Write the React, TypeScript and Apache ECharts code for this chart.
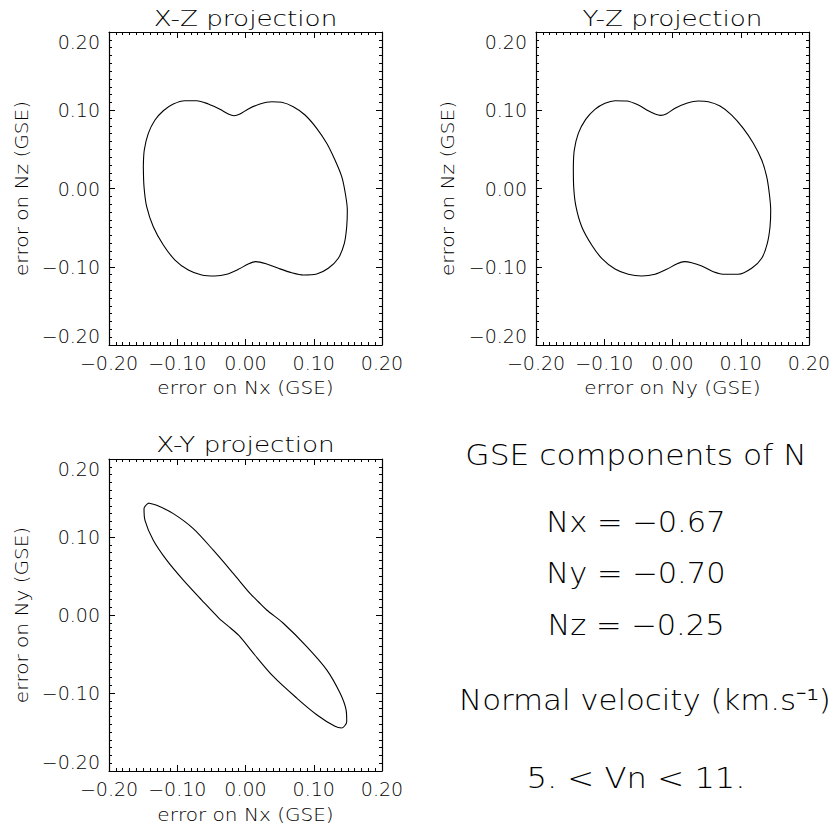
import React, { useEffect, useRef } from "react";
import * as echarts from "echarts";

// ---- Data ----
const xzX = [-0.1497,-0.1483,-0.1424,-0.1326,-0.1204,-0.1058,-0.0886,-0.0715,-0.0545,-0.0374,-0.0252,-0.0168,-0.0081,0.0041,0.0212,0.0384,0.0530,0.0700,0.0872,0.1043,0.1190,0.1311,0.1410,0.1462,0.1492,0.1483,0.1448,0.1360,0.1213,0.1043,0.0847,0.0677,0.0481,0.0311,0.0149,0.0041,-0.0105,-0.0275,-0.0447,-0.0642,-0.0838,-0.1033,-0.1204,-0.1351,-0.1448,-0.1487];
const xzZ = [0.0279,0.0492,0.0705,0.0875,0.0994,0.1080,0.1122,0.1122,0.1080,0.1012,0.0952,0.0930,0.0952,0.1016,0.1080,0.1109,0.1102,0.1045,0.0939,0.0769,0.0578,0.0364,0.0151,-0.0061,-0.0275,-0.0488,-0.0700,-0.0892,-0.1020,-0.1093,-0.1105,-0.1076,-0.1020,-0.0965,-0.0935,-0.0965,-0.1033,-0.1096,-0.1118,-0.1105,-0.1042,-0.0914,-0.0722,-0.0488,-0.0233,0.0023];

const yzY = [-0.1453,-0.1439,-0.1380,-0.1272,-0.1136,-0.0989,-0.0842,-0.0671,-0.0501,-0.0355,-0.0256,-0.0173,-0.0085,0.0037,0.0208,0.0378,0.0525,0.0696,0.0867,0.1037,0.1184,0.1307,0.1380,0.1418,0.1439,0.1429,0.1389,0.1307,0.1160,0.0964,0.0769,0.0598,0.0428,0.0281,0.0173,0.0062,-0.0085,-0.0256,-0.0451,-0.0648,-0.0842,-0.1037,-0.1184,-0.1330,-0.1414,-0.1448];
const yzZ = [0.0279,0.0492,0.0705,0.0884,0.1012,0.1089,0.1122,0.1118,0.1067,0.0994,0.0952,0.0935,0.0956,0.1025,0.1089,0.1118,0.1109,0.1054,0.0939,0.0769,0.0578,0.0364,0.0151,-0.0061,-0.0275,-0.0488,-0.0700,-0.0892,-0.1020,-0.1096,-0.1096,-0.1063,-0.0990,-0.0948,-0.0935,-0.0965,-0.1033,-0.1096,-0.1118,-0.1096,-0.1029,-0.0892,-0.0722,-0.0488,-0.0233,0.0023];

const xyX = [-0.1424,-0.1487,-0.1473,-0.1351,-0.1155,-0.0911,-0.0642,-0.0388,-0.0212,-0.0081,0.0114,0.0407,0.0750,0.1043,0.1311,0.1410,0.1483,0.1473,0.1385,0.1190,0.0897,0.0554,0.0311,0.0188,0.0066,-0.0179,-0.0472,-0.0765,-0.1058,-0.1301];
const xyY = [0.1435,0.1364,0.1214,0.0958,0.0703,0.0447,0.0192,-0.0042,-0.0173,-0.0277,-0.0489,-0.0788,-0.1065,-0.1278,-0.1427,-0.1448,-0.1364,-0.1214,-0.1001,-0.0703,-0.0405,-0.0106,0.0064,0.0170,0.0277,0.0533,0.0831,0.1108,0.1300,0.1406];

const panelTitles = ["X-Z projection", "Y-Z projection", "X-Y projection"];
const xNames = ["error on Nx (GSE)", "error on Ny (GSE)", "error on Nx (GSE)"];
const yNames = ["error on Nz (GSE)", "error on Nz (GSE)", "error on Ny (GSE)"];
const infoLines = [
  "GSE components of N",
  "Nx = −0.67",
  "Ny = −0.70",
  "Nz = −0.25",
  "Normal velocity (km.s⁻¹)",
  "5. < Vn < 11.",
];

const FONT = "'DejaVu Sans', sans-serif";
const FW = 200;

function loop(xs: number[], ys: number[]) {
  const pts = xs.map((x, i) => [x, ys[i]]);
  pts.push([xs[0], ys[0]]);
  return pts;
}

const fmt = (v: number) => {
  const s = Math.abs(v).toFixed(2);
  return v < -1e-9 ? "−" + s : s;
};

function txt(t: string, x: number, y: number, size: number, sx: number, rot = 0) {
  return {
    type: "text",
    x,
    y,
    rotation: rot,
    scaleX: sx,
    silent: true,
    style: {
      text: t,
      fill: "#000",
      fontSize: size,
      fontFamily: FONT,
      fontWeight: FW,
      textAlign: "center",
      textVerticalAlign: "middle",
      align: "center",
      verticalAlign: "middle",
    },
  };
}

export default function App() {
  const ref = useRef<HTMLDivElement>(null);
  useEffect(() => {
    if (!ref.current) return;
    const chart = echarts.init(ref.current, undefined, { renderer: "svg" });
    const grids = [
      { left: 109, top: 32, width: 273, height: 313 },
      { left: 536, top: 32, width: 273, height: 313 },
      { left: 109, top: 459, width: 273, height: 312 },
    ];
    const common = {
      type: "value",
      min: -0.2,
      max: 0.2,
      interval: 0.1,
      splitLine: { show: false },
      minorSplitLine: { show: false },
      axisLine: { onZero: false, lineStyle: { color: "#000", width: 1.2 } },
      axisTick: { inside: true, length: 6, lineStyle: { color: "#000", width: 1 } },
      minorTick: { show: true, splitNumber: 10, length: 3, lineStyle: { color: "#000", width: 1 } },
    };
    const labelStyle = {
      color: "#000",
      fontSize: 19,
      fontFamily: FONT,
      fontWeight: FW,
    };
    const xAxis: any[] = [];
    const yAxis: any[] = [];
    grids.forEach((_, g) => {
      xAxis.push({
        ...common,
        gridIndex: g,
        position: "bottom",
        axisLabel: { ...labelStyle, margin: 8, formatter: fmt },
      });
      xAxis.push({ ...common, gridIndex: g, position: "top", axisLabel: { show: false } });
      yAxis.push({
        ...common,
        gridIndex: g,
        position: "left",
        axisLabel: {
          ...labelStyle,
          margin: 9,
          formatter: fmt,
          verticalAlignMinLabel: "bottom",
          verticalAlignMaxLabel: "top",
        },
      });
      yAxis.push({ ...common, gridIndex: g, position: "right", axisLabel: { show: false } });
    });
    const curves = [loop(xzX, xzZ), loop(yzY, yzZ), loop(xyX, xyY)];
    const series = curves.map((d, g) => ({
      type: "line",
      xAxisIndex: 2 * g,
      yAxisIndex: 2 * g,
      data: d,
      showSymbol: false,
      symbol: "none",
      smooth: 0.3,
      lineStyle: { color: "#000", width: 1.1 },
    }));
    const titlePos = [
      [245.5, 19],
      [672.5, 19],
      [245.5, 445],
    ];
    const xNamePos = [
      [245.5, 388],
      [672.5, 388],
      [245.5, 815],
    ];
    const yNamePos = [
      [22, 188.5],
      [448, 188.5],
      [22, 615],
    ];
    const graphic: any[] = [];
    panelTitles.forEach((t, i) => graphic.push(txt(t, titlePos[i][0], titlePos[i][1], 21, 1.25)));
    xNames.forEach((t, i) => graphic.push(txt(t, xNamePos[i][0], xNamePos[i][1], 17, 1.18)));
    yNames.forEach((t, i) =>
      graphic.push(txt(t, yNamePos[i][0], yNamePos[i][1], 17, 1.18, Math.PI / 2))
    );
    const infoY = [455, 522, 573, 625, 700, 778];
    const infoX = [636, 636, 636, 636, 645, 636];
    const infoSX = [1.12, 1.09, 1.09, 1.09, 1.1, 1.15];
    infoLines.forEach((t, i) => graphic.push(txt(t, infoX[i], infoY[i], 28, infoSX[i])));
    chart.setOption({
      animation: false,
      backgroundColor: "#fff",
      grid: grids,
      xAxis,
      yAxis,
      series,
      graphic,
    });
    return () => chart.dispose();
  }, []);
  return (
    <div
      ref={ref}
      style={{ position: "fixed", left: 0, top: 0, width: 835, height: 831, background: "#fff" }}
    />
  );
}
